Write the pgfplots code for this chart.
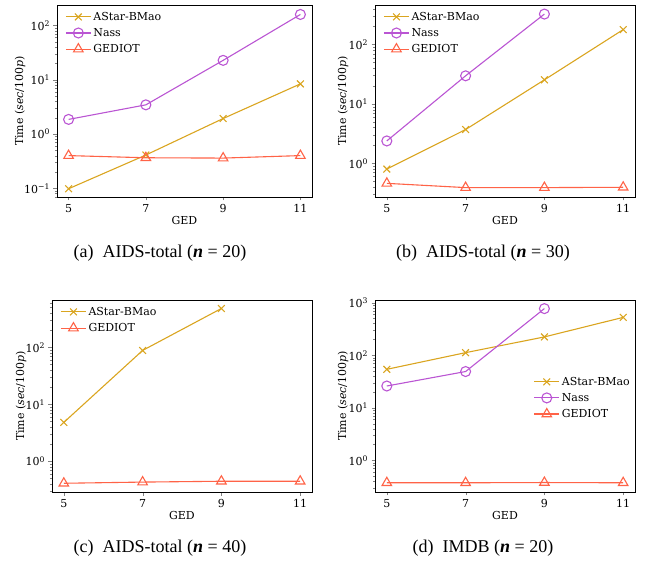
\documentclass[border=0pt]{standalone}
\usepackage{fontspec}
\setmainfont{DejaVu Serif}
\newfontfamily\capfont{Liberation Serif}
\usepackage{pgfplots}
\pgfplotsset{compat=1.18}
\pgfkeys{/pgf/number format/assume math mode=true}
\definecolor{cA}{RGB}{218,165,32}
\definecolor{cN}{RGB}{186,85,211}
\definecolor{cG}{RGB}{255,99,71}
\newcommand{\mylog}[1]{\pgfmathtruncatemacro\myex{round(#1/ln(10))}10\textsuperscript{\ifnum\myex<0 −\the\numexpr-\myex\relax\else\myex\fi}}
\pgfplotsset{
  myax/.style={
    scale only axis, width=260pt, height=192pt,
    xmin=4.7, xmax=11.3, xtick={5,7,9,11},
    tick align=outside, tick pos=left,
    major tick length=3.5pt, minor tick length=2pt,
    tick label style={font=\fontsize{11}{12}\selectfont},
    label style={font=\fontsize{11}{12}\selectfont},
    xlabel={GED}, ylabel={Time (\textit{sec}/100\textit{p})},
    xlabel style={yshift=3pt},
    ylabel style={anchor=center},
    axis line style={line width=0.8pt},
    yticklabel={\mylog{\tick}},
    legend style={draw=none, fill=none, font=\fontsize{11}{12}\selectfont, row sep=2.5pt, at={(0.02,0.985)}, anchor=north west},
    legend cell align=left,
    legend image code/.code={\draw[mark repeat=2,mark phase=2] plot coordinates {(0pt,0pt)(12.5pt,0pt)(25pt,0pt)};},
  },
  sA/.style={color=cA, line width=1.1pt, mark=x, mark size=4.8pt, mark options={solid}},
  sN/.style={color=cN, line width=1.1pt, mark=o, mark size=5pt},
  sG/.style={color=cG, line width=1.1pt, mark=triangle, mark size=5.5pt},
}
\begin{document}
\begin{tikzpicture}
\useasboundingbox (0,0) rectangle (649pt,-565pt);
% (a)
\begin{axis}[ymode=log, myax, at={(57pt,-197pt)}, anchor=south west, width=255pt, ymin=0.069, ymax=239,
  ylabel style={at={(axis description cs:-0.145,0.5)}}]
\addplot[sA] coordinates {(5,0.098)(7,0.41)(9,1.93)(11,8.4)};
\addplot[sN] coordinates {(5,1.86)(7,3.45)(9,22.8)(11,160)};
\addplot[sG] coordinates {(5,0.40)(7,0.365)(9,0.36)(11,0.40)};
\legend{AStar-BMao, Nass, GEDIOT}
\end{axis}
% (b)
\begin{axis}[ymode=log, myax, at={(375pt,-197pt)}, anchor=south west, ymin=0.271, ymax=462,
  ylabel style={at={(axis description cs:-0.123,0.5)}}]
\addplot[sA] coordinates {(5,0.80)(7,3.7)(9,25.4)(11,178)};
\addplot[sN] coordinates {(5,2.38)(7,29.7)(9,325)};
\addplot[sG] coordinates {(5,0.46)(7,0.39)(9,0.39)(11,0.395)};
\legend{AStar-BMao, Nass, GEDIOT}
\end{axis}
% (c)
\begin{axis}[ymode=log, myax, at={(52pt,-492pt)}, anchor=south west, ymin=0.288, ymax=676,
  ylabel style={at={(axis description cs:-0.119,0.5)}}]
\addplot[sA] coordinates {(5,4.8)(7,88)(9,480)};
\addplot[sG] coordinates {(5,0.41)(7,0.43)(9,0.445)(11,0.445)};
\legend{AStar-BMao, GEDIOT}
\end{axis}
% (d)
\begin{axis}[ymode=log, myax, at={(375pt,-492pt)}, anchor=south west, ymin=0.251, ymax=1122,
  ylabel style={at={(axis description cs:-0.123,0.5)}},
  legend style={at={(1.0,0.49)}, anchor=east}]
\addplot[sA] coordinates {(5,54)(7,112)(9,223)(11,525)};
\addplot[sN] coordinates {(5,26)(7,49)(9,770)};
\addplot[sG] coordinates {(5,0.376)(7,0.376)(9,0.38)(11,0.376)};
\legend{AStar-BMao, Nass, GEDIOT}
\end{axis}
\node[font=\capfont\fontsize{18}{20}\selectfont] at (160pt,-253pt) {(a)\enspace AIDS-total (\textbf{\textit{n}} = 20)};
\node[font=\capfont\fontsize{18}{20}\selectfont] at (483pt,-253pt) {(b)\enspace AIDS-total (\textbf{\textit{n}} = 30)};
\node[font=\capfont\fontsize{18}{20}\selectfont] at (160pt,-548pt) {(c)\enspace AIDS-total (\textbf{\textit{n}} = 40)};
\node[font=\capfont\fontsize{18}{20}\selectfont] at (483pt,-548pt) {(d)\enspace IMDB (\textbf{\textit{n}} = 20)};
\end{tikzpicture}
\end{document}
